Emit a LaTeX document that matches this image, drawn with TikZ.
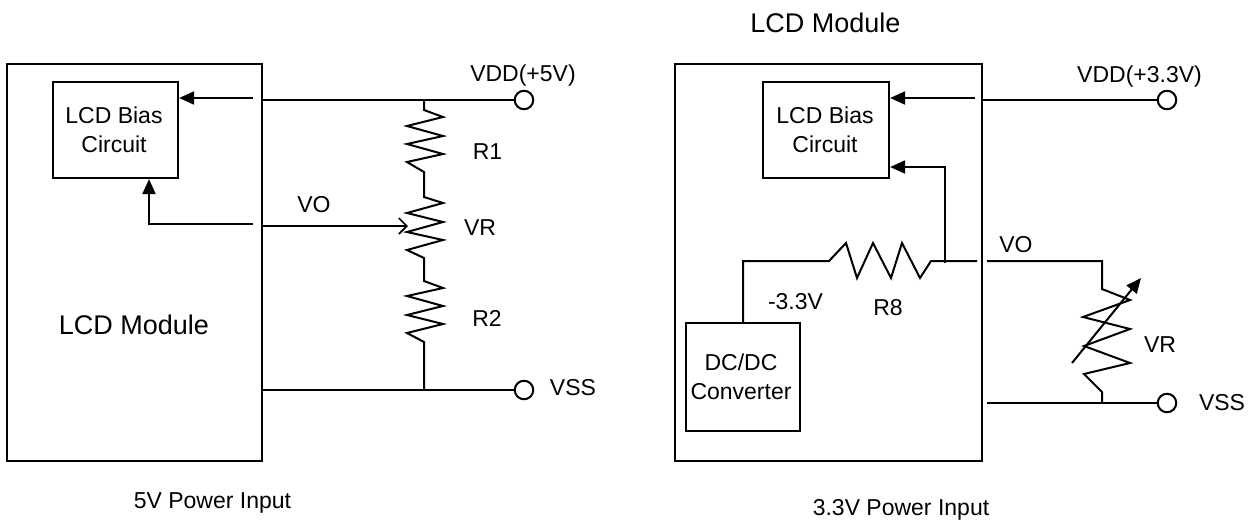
\documentclass[tikz,border=0pt]{standalone}
\usepackage{fontspec}
\setmainfont{Liberation Sans}
\usetikzlibrary{arrows.meta,calc,positioning}

\begin{document}
\begin{tikzpicture}[x=1pt,y=-1pt,
  wire/.style={line width=2pt,line join=miter},
  block/.style={draw,line width=2.2pt,inner sep=0pt,align=center},
  term/.style={draw,circle,line width=2pt,fill=white,minimum size=18.5pt,inner sep=0pt},
  lab/.style={inner sep=0pt,font=\fontsize{23}{29.3}\selectfont,align=center},
  biglab/.style={inner sep=0pt,font=\fontsize{27}{32}\selectfont},
  bigtip/.style={-{Triangle[length=15pt,width=13pt]}},
  opentip/.style={-{Straight Barb[length=8pt,width=16pt,line width=1.6pt]}}]
\useasboundingbox (0,0) rectangle (1256,523);

% 5V side
\node[block,minimum width=255pt,minimum height=397pt] (modA) at (134.5,262.5) {};
\node[block,minimum width=125pt,minimum height=96pt] (biasA) at (115.5,130) {};
\node[lab] (biasTextA) at (114,129.5) {LCD Bias\\Circuit};
\node[biglab] (modTextA) at (134,325) {LCD Module};

\node[term] (vddA) at (524,100) {};
\node[term] (vssA) at (524,390) {};
\coordinate (outA) at (modA.east |- vddA);
\coordinate (lowA) at (modA.east |- vssA);
\coordinate (topA) at (424,100);
\coordinate (botA) at (424,390);
\coordinate (inA) at (253,98);
\coordinate (foA) at (253,224);
\coordinate (cornerA) at (149,224);
\coordinate (voA) at (262,226);
\coordinate (tapA) at (408,226);

\draw[wire,bigtip] (inA) -- (inA -| biasA.east);
\draw[wire] (outA) -- (vddA);
\draw[wire] (lowA) -- (vssA);
\draw[wire,bigtip] (foA) -- (cornerA) -- (cornerA |- biasA.south);
\draw[wire,opentip] (voA) -- (tapA);

\draw[wire] (topA) -- ++(0,10) -- (443,117) -- (407,126) -- (443,136) -- (407,144) -- (443,154) -- (407,162)
  -- (424,172) -- (424,197) -- (443,203) -- (407,213) -- (443,222) -- (407,232) -- (443,240) -- (407,250)
  -- (424,258) -- (424,281) -- (443,288) -- (407,296) -- (443,306) -- (407,315) -- (443,324) -- (407,333)
  -- (424,342) -- (botA);

\node[lab] (vddTextA) at (523,76) {VDD(+5V)};
\node[lab] (vssTextA) at (573,388) {VSS};
\node[lab] (voTextA) at (314,205) {VO};
\node[lab] (r1Text) at (487.5,152) {R1};
\node[lab] (vrTextA) at (480,228) {VR};
\node[lab] (r2Text) at (487,318) {R2};
\node[lab] (inTextA) at (212.5,503) {5V Power Input};

% 3.3V side
\node[block,minimum width=307pt,minimum height=397pt] (modB) at (828.5,262.5) {};
\node[block,minimum width=126pt,minimum height=96pt] (biasB) at (826,130) {};
\node[block,minimum width=114pt,minimum height=108pt] (dcB) at (743,377) {};
\node[lab] (biasTextB) at (825,129.5) {LCD Bias\\Circuit};
\node[lab] (dcTextB) at (741,376.5) {DC/DC\\Converter};
\node[biglab] (modTextB) at (825.5,23) {LCD Module};

\node[term] (vddB) at (1167,100) {};
\node[term] (vssB) at (1167,403) {};
\coordinate (outB) at (modB.east |- vddB);
\coordinate (inB) at (975,98);
\coordinate (jointB) at (945,263);
\coordinate (cornerB) at (945,167);
\coordinate (endB) at (977,261);
\coordinate (voB) at (987,261);
\coordinate (lowB) at (987,403);
\coordinate (botB) at (1102,403);

\draw[wire,bigtip] (inB) -- (inB -| biasB.east);
\draw[wire] (outB) -- (vddB);
\draw[wire] (lowB) -- (vssB);
\draw[wire,bigtip] (jointB) -- (cornerB) -- (cornerB -| biasB.east);

\draw[wire] (dcB.north) -- (dcB.north |- endB) -- (829,261) -- (846,243) -- (857,278) -- (873,243) -- (891,278)
  -- (902,243) -- (920,278) -- (931,261) -- (endB);
\draw[wire] (voB) -- (1102,261) -- (1102,289) -- (1130,300) -- (1083,317) -- (1130,329) -- (1084,346)
  -- (1130,363) -- (1084,374) -- (1102,392) -- (botB);
\draw[wire,bigtip] (1072,363) -- (1141,278);

\node[lab] (vddTextB) at (1139.5,77) {VDD(+3.3V)};
\node[lab] (vssTextB) at (1222,403) {VSS};
\node[lab] (voTextB) at (1016,245) {VO};
\node[lab] (minusText) at (795.5,302) {-3.3V};
\node[lab] (r8Text) at (888,308) {R8};
\node[lab] (vrTextB) at (1160,345) {VR};
\node[lab] (inTextB) at (901,510) {3.3V Power Input};

\end{tikzpicture}
\end{document}
